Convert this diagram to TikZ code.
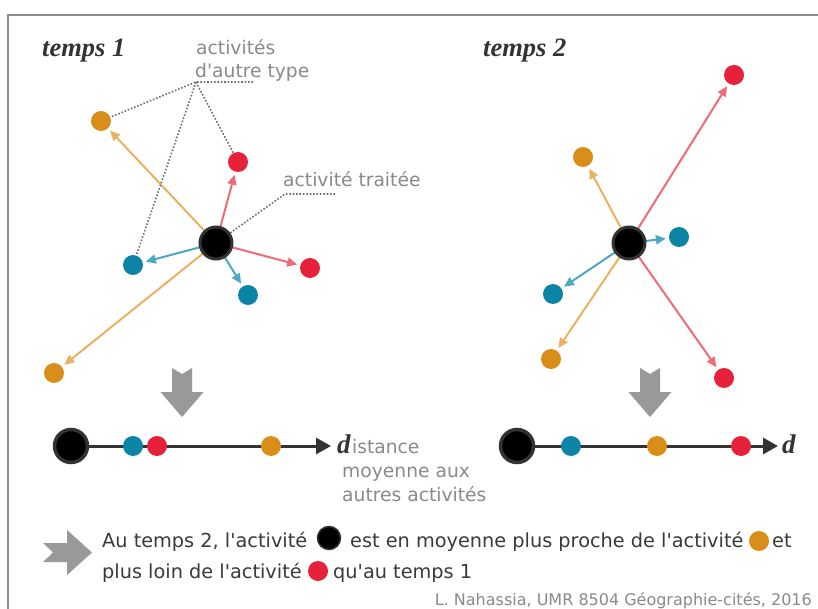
\documentclass[tikz,border=0pt]{standalone}
\usepackage{fontspec}
\newfontfamily\dv{DejaVu Sans}
\newfontfamily\ls{Liberation Serif}
\usetikzlibrary{arrows.meta,backgrounds}
\definecolor{dotor}{HTML}{DA8E1A}
\definecolor{dotred}{HTML}{E8213A}
\definecolor{dotbl}{HTML}{0B84A5}
\definecolor{aror}{HTML}{E9B262}
\definecolor{arred}{HTML}{EF6B78}
\definecolor{arbl}{HTML}{4CA9C3}
\definecolor{labc}{HTML}{8A8A8A}
\definecolor{dk}{HTML}{333333}
\definecolor{txtc}{HTML}{3A3A3A}
\definecolor{bigar}{HTML}{999999}
\definecolor{framec}{HTML}{8C8C8C}
\definecolor{dotline}{HTML}{707070}
\begin{document}
\begin{tikzpicture}[x=1pt,y=-1pt,
  dot/.style={circle, inner sep=0pt, minimum size=20pt},
  odot/.style={dot, fill=dotor},
  rdot/.style={dot, fill=dotred},
  bdot/.style={dot, fill=dotbl},
  ctr/.style={circle, inner sep=0pt, minimum size=32pt, fill=black, draw=dk, line width=3pt},
  axc/.style={circle, inner sep=0pt, minimum size=33pt, fill=black, draw=dk, line width=3.5pt},
  arr/.style={line width=2pt, -{Triangle[length=10pt,width=9pt]}, shorten >=3pt},
  dotl/.style={dotline, line width=1.6pt, dash pattern=on 1.6pt off 1.8pt},
  axl/.style={dk, line width=3pt, -{Triangle[length=15pt,width=16pt]}},
  lab/.style={text=labc, font=\dv\fontsize{18.7}{24}\selectfont, inner sep=0pt, anchor=base west},
  body/.style={text=txtc, font=\dv\fontsize{19.3}{24}\selectfont, inner sep=0pt, anchor=base west},
  credit/.style={text=labc, font=\dv\fontsize{16}{20}\selectfont, inner sep=0pt, anchor=base east},
  ttl/.style={text=dk, font=\ls\bfseries\itshape\fontsize{26.5}{26}\selectfont, inner sep=0pt, anchor=base west},
  dlet/.style={text=dk, font=\ls\bfseries\itshape\fontsize{27}{27}\selectfont, inner sep=0pt, anchor=base west}
]
\useasboundingbox (0,0) rectangle (818,609);
\draw[framec, line width=2pt] (818,15) -- (8,15) -- (8,609);

% titles
\node[ttl] (t1) at (42,57) {temps 1};
\node[ttl] (t2) at (483,57) {temps 2};

% ---------- panel 1
\node[ctr] (c1) at (216,243) {};
\node[odot] (o1a) at (101,121) {};
\node[rdot] (r1a) at (238,162) {};
\node[rdot] (r1b) at (310,268) {};
\node[bdot] (b1a) at (133,265) {};
\node[bdot] (b1b) at (248,295) {};
\node[odot] (o1b) at (54,373) {};

\node[lab] (la1) at (196,55) {activités};
\node[lab] (la2) at (195,78) {d'autre type};
\node[lab] (la3) at (283,187) {activité traitée};
\coordinate (k1) at (196,82);
\coordinate (k1e) at (253,82);
\coordinate (k2) at (285,194);
\coordinate (k2e) at (335,194);

% ---------- panel 2
\node[ctr] (c2) at (629,243) {};
\node[rdot] (r2a) at (734,75) {};
\node[odot] (o2a) at (583,157) {};
\node[bdot] (b2a) at (679,237) {};
\node[bdot] (b2b) at (553,294) {};
\node[odot] (o2b) at (551,359) {};
\node[rdot] (r2b) at (724,378) {};

% ---------- down arrows
\fill[bigar] (172,368) -- (182,374) -- (192,368) -- (192,392) -- (203.5,392) -- (182,417) -- (160.5,392) -- (172,392) -- cycle;
\fill[bigar] (640,368) -- (650,374) -- (660,368) -- (660,392) -- (671.5,392) -- (650,417) -- (628.5,392) -- (640,392) -- cycle;

% ---------- axes
\node[axc] (a1) at (71,446) {};
\node[bdot] (a1b) at (133,446) {};
\node[rdot] (a1r) at (157,446) {};
\node[odot] (a1o) at (271,446) {};
\coordinate (a1t) at (331,446);
\node[dlet] (d1) at (337,453) {d};
\node[lab, anchor=base west] (d1b) at ([xshift=1pt]d1.base east) {istance};
\node[lab] (d1c) at (342,477) {moyenne aux};
\node[lab] (d1d) at (342,501) {autres activités};

\node[axc] (a2) at (517,446) {};
\node[bdot] (a2b) at (571,446) {};
\node[odot] (a2o) at (657,446) {};
\node[rdot] (a2r) at (741,446) {};
\coordinate (a2t) at (778,446);
\node[dlet] (d2) at (782,453) {d};

% ---------- bottom
\fill[bigar] (43,543) -- (67,543) -- (67,530) -- (92,552.5) -- (67,575) -- (67,562) -- (43,562) -- (53,552.5) -- cycle;
\node[body] (s1) at (102,547) {Au temps 2, l'activité};
\node[circle, inner sep=0pt, minimum size=23pt, fill=black, draw=dk, line width=1.5pt] (sb) at (329,538) {};
\node[body] (s2) at (350,547) {est en moyenne plus proche de l'activité};
\node[odot] (so) at (759,541) {};
\node[body] (s3) at (772,547) {et};
\node[body] (s4) at (102,578) {plus loin de l'activité};
\node[rdot] (sr) at (318,571) {};
\node[body] (s5) at (333,578) {qu'au temps 1};
\node[credit] (cr) at (812,605) {L. Nahassia, UMR 8504 Géographie-cités, 2016};

% ---------- connectors (behind)
\begin{scope}[on background layer]
\fill[white] (0,0) rectangle (818,609);
\draw[arr, aror] (c1.center) -- (o1a);
\draw[arr, aror] (c1.center) -- (o1b);
\draw[arr, arred] (c1.center) -- (r1a);
\draw[arr, arred] (c1.center) -- (r1b);
\draw[arr, arbl] (c1.center) -- (b1a);
\draw[arr, arbl] (c1.center) -- (b1b);
\draw[dotl] (k1e) -- (k1) -- (o1a);
\draw[dotl] (k1) -- (b1a);
\draw[dotl] (k1) -- (r1a);
\draw[dotl] (c1) -- (k2) -- (k2e);

\draw[arr, arred] (c2.center) -- (r2a);
\draw[arr, arred] (c2.center) -- (r2b);
\draw[arr, aror] (c2.center) -- (o2a);
\draw[arr, aror] (c2.center) -- (o2b);
\draw[arr, arbl] (c2.center) -- (b2a);
\draw[arr, arbl] (c2.center) -- (b2b);

\draw[axl] (a1.center) -- (a1t);
\draw[axl] (a2.center) -- (a2t);
\end{scope}
\end{tikzpicture}
\end{document}
